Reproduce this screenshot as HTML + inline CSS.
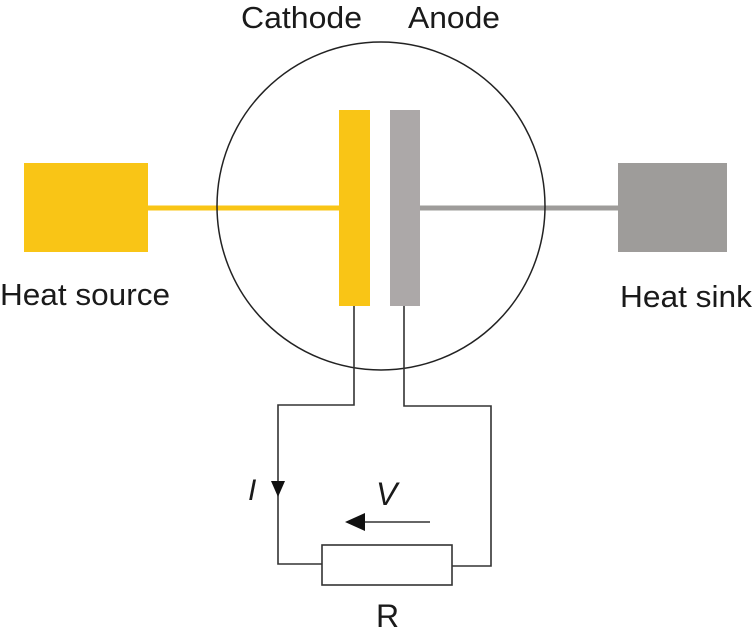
<!DOCTYPE html>
<html><head><style>
html,body{margin:0;padding:0;background:#fff;}
svg{display:block;}
text{font-family:"Liberation Sans",sans-serif;fill:#1a1a1a;}
</style></head><body>
<svg width="754" height="630" viewBox="0 0 754 630" xmlns="http://www.w3.org/2000/svg">
<rect x="24" y="163" width="124" height="89" fill="#F9C516"/>
<rect x="618" y="163" width="109" height="89" fill="#9E9C9A"/>
<line x1="148" y1="208" x2="340" y2="208" stroke="#F9C516" stroke-width="5"/>
<line x1="420" y1="208" x2="618" y2="208" stroke="#9E9C9A" stroke-width="5"/>
<circle cx="381" cy="206" r="164" fill="none" stroke="#222" stroke-width="1.5"/>
<rect x="339" y="110" width="31" height="196" fill="#F9C516"/>
<rect x="390" y="110" width="30" height="196" fill="#ACA8A8"/>
<g fill="none" stroke="#333" stroke-width="1.6">
<polyline points="354,306 354,405 278,405 278,564 322,564"/>
<polyline points="404,306 404,406 491,406 491,566 452,566"/>
<rect x="322" y="545" width="130" height="40"/>
<line x1="360" y1="522" x2="430" y2="522"/>
</g>
<polygon points="271,481 285,481 278,497" fill="#111"/>
<polygon points="345,522 365,513 365,531" fill="#111"/>
<text x="241" y="28" font-size="31" textLength="121" lengthAdjust="spacingAndGlyphs">Cathode</text>
<text x="408" y="28" font-size="31" textLength="92" lengthAdjust="spacingAndGlyphs">Anode</text>
<text x="0" y="305" font-size="31" textLength="170" lengthAdjust="spacingAndGlyphs">Heat source</text>
<text x="620" y="307" font-size="31" textLength="132" lengthAdjust="spacingAndGlyphs">Heat sink</text>
<text x="248" y="500" font-size="30" font-style="italic">I</text>
<text x="376" y="505" font-size="32" font-style="italic">V</text>
<text x="376" y="627" font-size="32">R</text>
</svg>
</body></html>
